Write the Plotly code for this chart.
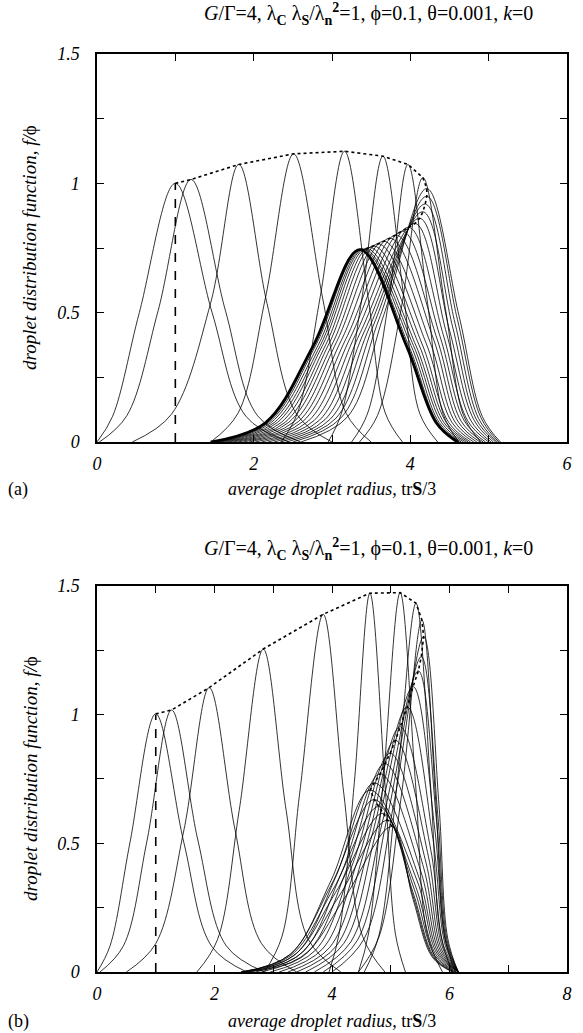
import plotly.graph_objects as go

# ---------------- Panel (a) ----------------
# each curve: left foot, left 10%, left half, peak, right half, right 10%, right foot, peak height
a_h   = [1.000, 1.015, 1.073, 1.114, 1.124, 1.105, 1.073, 1.022,
         0.980, 0.950, 0.920, 0.890, 0.865, 0.845, 0.830, 0.815, 0.800, 0.788,
         0.776, 0.766, 0.758, 0.752, 0.748, 0.746, 0.745, 0.744, 0.744, 0.744]
a_xp  = [1.00, 1.20, 1.81, 2.51, 3.16, 3.65, 3.97, 4.16,
         4.21, 4.21, 4.19, 4.16, 4.12, 4.06, 3.98, 3.90, 3.82, 3.74,
         3.66, 3.59, 3.53, 3.48, 3.44, 3.41, 3.39, 3.37, 3.36, 3.355]
a_l0  = [0.00, 0.03, 0.45, 1.45, 2.35, 2.95, 3.25, 3.35,
         2.60, 2.50, 2.42, 2.34, 2.26, 2.18, 2.10, 2.02, 1.94, 1.87,
         1.80, 1.74, 1.68, 1.63, 1.58, 1.54, 1.51, 1.48, 1.46, 1.45]
a_l10 = [0.20, 0.38, 0.95, 1.80, 2.56, 3.12, 3.45, 3.58,
         3.20, 3.12, 3.05, 2.98, 2.91, 2.84, 2.77, 2.70, 2.63, 2.57,
         2.51, 2.45, 2.40, 2.35, 2.30, 2.26, 2.22, 2.19, 2.17, 2.15]
a_l50 = [0.54, 0.78, 1.45, 2.15, 2.85, 3.38, 3.72, 3.88,
         3.66, 3.60, 3.54, 3.48, 3.42, 3.36, 3.30, 3.24, 3.18, 3.12,
         3.06, 3.01, 2.96, 2.92, 2.88, 2.85, 2.82, 2.79, 2.77, 2.76]
a_r50 = [1.47, 1.64, 2.17, 2.88, 3.46, 3.92, 4.22, 4.45,
         4.62, 4.60, 4.57, 4.54, 4.50, 4.46, 4.42, 4.38, 4.34, 4.30,
         4.25, 4.20, 4.15, 4.11, 4.07, 4.04, 4.01, 3.98, 3.96, 3.95]
a_r10 = [1.90, 2.05, 2.55, 3.18, 3.68, 4.12, 4.42, 4.68,
         4.92, 4.90, 4.87, 4.84, 4.81, 4.77, 4.73, 4.69, 4.65, 4.61,
         4.57, 4.53, 4.49, 4.46, 4.43, 4.40, 4.37, 4.35, 4.34, 4.33]
a_r0  = [2.45, 2.60, 3.00, 3.50, 3.90, 4.35, 4.62, 4.90,
         5.15, 5.13, 5.11, 5.09, 5.06, 5.03, 5.00, 4.96, 4.93, 4.89,
         4.85, 4.81, 4.77, 4.74, 4.71, 4.68, 4.65, 4.63, 4.61, 4.60]

# ---------------- Panel (b) ----------------
b_h   = [1.003, 1.018, 1.105, 1.255, 1.390, 1.472, 1.474, 1.433, 1.368,
         1.303, 1.225, 1.170, 1.109, 1.030, 0.953, 0.900, 0.850, 0.810, 0.770,
         0.735, 0.707, 0.670, 0.643, 0.617, 0.590, 0.565]
b_xp  = [1.00, 1.27, 1.91, 2.83, 3.85, 4.645, 5.16, 5.43, 5.53,
         5.56, 5.52, 5.47, 5.38, 5.28, 5.16, 5.08, 4.99, 4.90, 4.82,
         4.72, 4.65, 4.72, 4.80, 4.87, 4.95, 5.02]
b_l0  = [0.00, 0.05, 0.50, 1.70, 2.85, 3.95, 4.45, 4.55, 4.45,
         4.00, 3.85, 3.70, 3.55, 3.40, 3.25, 3.10, 2.95, 2.80, 2.70,
         2.60, 2.50, 2.45, 2.45, 2.45, 2.50, 2.55]
b_l10 = [0.22, 0.45, 1.00, 2.05, 3.15, 4.12, 4.62, 4.80, 4.80,
         4.55, 4.43, 4.32, 4.20, 4.08, 3.96, 3.84, 3.72, 3.60, 3.50,
         3.40, 3.30, 3.28, 3.30, 3.34, 3.40, 3.48]
b_l50 = [0.56, 0.85, 1.48, 2.42, 3.45, 4.38, 4.87, 5.10, 5.18,
         5.05, 4.95, 4.86, 4.76, 4.66, 4.56, 4.46, 4.36, 4.26, 4.16,
         4.06, 3.98, 3.98, 4.02, 4.06, 4.12, 4.20]
b_r50 = [1.48, 1.72, 2.35, 3.22, 4.20, 4.90, 5.42, 5.68, 5.76,
         5.82, 5.80, 5.78, 5.75, 5.72, 5.68, 5.64, 5.60, 5.56, 5.52,
         5.48, 5.45, 5.42, 5.40, 5.38, 5.38, 5.38]
b_r10 = [1.95, 2.20, 2.80, 3.60, 4.52, 5.08, 5.62, 5.85, 5.92,
         5.97, 5.96, 5.95, 5.94, 5.93, 5.91, 5.89, 5.87, 5.85, 5.83,
         5.81, 5.79, 5.77, 5.75, 5.73, 5.72, 5.71]
b_r0  = [2.55, 2.85, 3.40, 4.15, 4.90, 5.25, 5.88, 6.05, 6.10,
         6.15, 6.15, 6.15, 6.15, 6.15, 6.15, 6.15, 6.15, 6.15, 6.15,
         6.15, 6.15, 6.12, 6.10, 6.08, 6.06, 6.05]

initial_x = 1.0
initial_h = 1.0

x_ticks_a = [0, 2, 4, 6]
x_ticks_b = [0, 2, 4, 6, 8]
y_ticks = [0, 0.5, 1, 1.5]
y_tick_text = ["0", "0.5", "1", "1.5"]

TITLE = ("<i>G</i>/Γ=4, λ<sub><b>C</b></sub> λ<sub><b>S</b></sub>/λ<sub><b>n</b></sub>"
         "<sup><b>2</b></sup>=1, ϕ=0.1, θ=0.001, <i>k</i>=0")
XTITLE = "<i>average droplet radius,</i> tr<b>S</b>/3"
YTITLE = "<i>droplet distribution function, f/</i>ϕ"

FONT = "Liberation Serif, Times New Roman, serif"

fig = go.Figure()


def add_panel(h, xp, l0, l10, l50, r50, r10, r0, xa, ya, thick_last):
    n = len(h)
    for i in range(n):
        xs = [l0[i], l10[i], l50[i], xp[i], r50[i], r10[i], r0[i]]
        ys = [0, 0.1 * h[i], 0.5 * h[i], h[i], 0.5 * h[i], 0.1 * h[i], 0]
        w = 2.8 if (thick_last and i == n - 1) else 0.8
        fig.add_trace(go.Scatter(x=xs, y=ys, mode="lines", xaxis=xa, yaxis=ya,
                                 line=dict(color="black", width=w, shape="spline",
                                           smoothing=1.0),
                                 hoverinfo="skip", showlegend=False))
    fig.add_trace(go.Scatter(x=xp, y=h, mode="lines", xaxis=xa, yaxis=ya,
                             line=dict(color="black", width=1.6, dash="dot"),
                             hoverinfo="skip", showlegend=False))
    fig.add_trace(go.Scatter(x=[initial_x, initial_x], y=[0, initial_h], mode="lines",
                             xaxis=xa, yaxis=ya,
                             line=dict(color="black", width=1.6, dash="dash"),
                             hoverinfo="skip", showlegend=False))


add_panel(a_h, a_xp, a_l0, a_l10, a_l50, a_r50, a_r10, a_r0, "x", "y", True)
add_panel(b_h, b_xp, b_l0, b_l10, b_l50, b_r50, b_r10, b_r0, "x2", "y2", False)

axis_common = dict(showline=True, linecolor="black", linewidth=1.5, mirror="ticks",
                   ticks="inside", ticklen=7, tickwidth=1.2, tickcolor="black",
                   showgrid=False, zeroline=False,
                   tickfont=dict(family=FONT, size=18, color="black", style="italic"),
                   minor=dict(ticks="inside", ticklen=7, tickwidth=1.2, tickcolor="black",
                              showgrid=False))

fig.update_layout(
    width=583, height=1033,
    margin=dict(l=97, r=16, t=54, b=61),
    paper_bgcolor="white", plot_bgcolor="white",
    showlegend=False,
    font=dict(family=FONT, size=17, color="black"),
    xaxis=dict(domain=[0, 1], range=[0, 6], anchor="y", tickmode="array",
               tickvals=x_ticks_a, ticktext=[str(v) for v in x_ticks_a],
               minor_dtick=1, minor_tick0=0, ticklabelstandoff=5, **axis_common),
    yaxis=dict(domain=[0.5773, 1.0], range=[0, 1.5], anchor="x", tickmode="array",
               tickvals=y_ticks, ticktext=y_tick_text,
               minor_dtick=0.25, minor_tick0=0, ticklabelstandoff=12, **axis_common),
    xaxis2=dict(domain=[0, 1], range=[0, 8], anchor="y2", tickmode="array",
                tickvals=x_ticks_b, ticktext=[str(v) for v in x_ticks_b],
                minor_dtick=1, minor_tick0=0, ticklabelstandoff=5, **axis_common),
    yaxis2=dict(domain=[0, 0.4205], range=[0, 1.5], anchor="x2", tickmode="array",
                tickvals=y_ticks, ticktext=y_tick_text,
                minor_dtick=0.25, minor_tick0=0, ticklabelstandoff=12, **axis_common),
)


def px_y(py):
    return (972 - py) / 918.0


def px_x(px):
    return (px - 97) / 470.0


ann = []
for ty in (14, 549):
    ann.append(dict(text=TITLE, x=px_x(368), y=px_y(ty), xref="paper", yref="paper",
                    showarrow=False, xanchor="center", yanchor="middle",
                    font=dict(family=FONT, size=20, color="black")))
for ty, lab in ((489, "(a)"), (1021, "(b)")):
    ann.append(dict(text=XTITLE, x=px_x(332), y=px_y(ty), xref="paper", yref="paper",
                    showarrow=False, xanchor="center", yanchor="middle",
                    font=dict(family=FONT, size=18, color="black")))
    ann.append(dict(text=lab, x=px_x(6), y=px_y(ty), xref="paper", yref="paper",
                    showarrow=False, xanchor="left", yanchor="middle",
                    font=dict(family=FONT, size=18, color="black")))
for ty in (248, 779):
    ann.append(dict(text=YTITLE, x=px_x(30), y=px_y(ty), xref="paper", yref="paper",
                    showarrow=False, xanchor="center", yanchor="middle", textangle=-90,
                    font=dict(family=FONT, size=19, color="black")))
fig.update_layout(annotations=ann)

fig.write_html("out.html")
